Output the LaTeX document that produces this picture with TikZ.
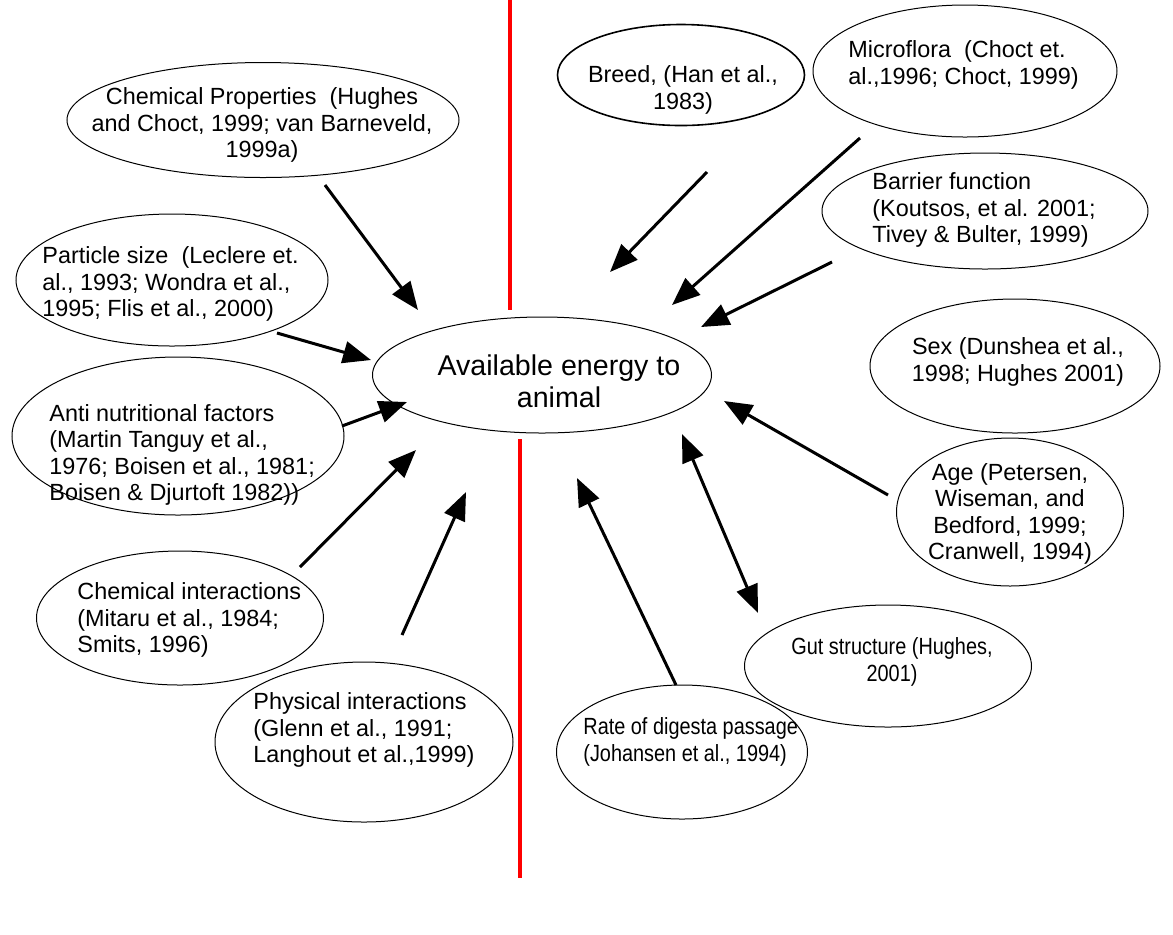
\documentclass[tikz,border=0pt]{standalone}
\usepackage{fontspec}
\setmainfont{Liberation Sans}
\newfontfamily\narrowsans[FakeStretch=0.85]{Liberation Sans}
\usetikzlibrary{arrows.meta,shapes.geometric}
\begin{document}
\begin{tikzpicture}[x=0.5pt,y=-0.5pt,
  ell/.style={draw, ellipse, inner sep=0pt, line width=0.5pt},
  lbl/.style={inner sep=0pt, font=\fontsize{11.7pt}{13.3pt}\selectfont},
  narrowlbl/.style={inner sep=0pt, font=\narrowsans\fontsize{11.7pt}{13.3pt}\selectfont},
  biglbl/.style={inner sep=0pt, align=center, font=\fontsize{14.3pt}{16pt}\selectfont},
  arr/.style={line width=1.5pt, -{Triangle[length=14pt,width=11pt]}},
  dbl/.style={line width=1.5pt, {Triangle[length=14pt,width=11pt]}-{Triangle[length=14pt,width=11pt]}},
  redline/.style={draw=red, line width=2pt}]
\fill[white] (0,0) rectangle (1173,934);
\useasboundingbox (0,0) rectangle (1173,934);

% red dividing line
\coordinate (r1t) at (510,0);
\coordinate (r1b) at (510,310);
\coordinate (r2t) at (520,439);
\coordinate (r2b) at (520,878);
\draw[redline] (r1t) -- (r1b);
\draw[redline] (r2t) -- (r2b);

% ellipses
\node[ell, minimum width=169.5pt, minimum height=58pt] (ce) at (542,375) {};
\node[ell, minimum width=196pt, minimum height=57.5pt] (cp) at (263,120) {};
\node[ell, minimum width=156pt, minimum height=66pt] (ps) at (172,280) {};
\node[ell, minimum width=166pt, minimum height=79pt] (an) at (178,436) {};
\node[ell, minimum width=143.5pt, minimum height=67pt] (ci) at (180,618) {};
\node[ell, minimum width=149pt, minimum height=80pt] (pi) at (364,742) {};
\node[ell, line width=0.8pt, minimum width=123.5pt, minimum height=50.5pt] (br) at (681,75) {};
\node[ell, minimum width=152pt, minimum height=66pt] (mf) at (965,71) {};
\node[ell, minimum width=163pt, minimum height=58pt] (bf) at (985,211) {};
\node[ell, minimum width=145pt, minimum height=67pt] (sx) at (1015,366) {};
\node[ell, minimum width=113.5pt, minimum height=74pt] (ag) at (1010,512) {};
\node[ell, minimum width=143.5pt, minimum height=61pt] (gs) at (888,666) {};
\node[ell, minimum width=125.5pt, minimum height=67pt] (rd) at (682,752) {};

% texts
\node[biglbl] (cet) at (559,381) {Available energy to\\animal};
\node[lbl, align=center] (cpt) at (262,125) {Chemical Properties~ (Hughes\\and Choct, 1999; van Barneveld,\\1999a)};
\node[lbl, align=left, anchor=west] (pst) at (42,284) {Particle size~ (Leclere et.\\al., 1993; Wondra et al.,\\1995; Flis et al., 2000)};
\node[lbl, align=left, anchor=west] (ant) at (49,455) {Anti nutritional factors\\(Martin Tanguy et al.,\\1976; Boisen et al., 1981;\\Boisen \& Djurtoft 1982))};
\node[lbl, align=left, anchor=west] (cit) at (77,620) {Chemical interactions\\(Mitaru et al., 1984;\\Smits, 1996)};
\node[lbl, align=left, anchor=west] (pit) at (253,730) {Physical interactions\\(Glenn et al., 1991;\\Langhout et al.,1999)};
\node[lbl, align=center] (brt) at (683,90) {Breed, (Han et al.,\\1983)};
\node[lbl, align=left, anchor=west] (mft) at (848,65) {Microflora~ (Choct et.\\al.,1996; Choct, 1999)};
\node[lbl, align=left, anchor=west] (bft) at (872,210) {Barrier function\\(Koutsos, et al. 2001;\\Tivey \& Bulter, 1999)};
\node[lbl, align=center] (sxt) at (1018,362) {Sex (Dunshea et al.,\\1998; Hughes 2001)};
\node[lbl, align=center] (agt) at (1010,514) {Age (Petersen,\\Wiseman, and\\Bedford, 1999;\\Cranwell, 1994)};
\node[narrowlbl, align=center] (gst) at (892,662) {Gut structure (Hughes,\\2001)};
\node[narrowlbl, align=left, anchor=west] (rdt) at (583,742) {Rate of digesta passage\\(Johansen et al., 1994)};

% arrow end points
\coordinate (a1s) at (325,185);  \coordinate (a1e) at (418,310);
\coordinate (a2s) at (277,333);  \coordinate (a2e) at (371,360);
\coordinate (a3s) at (342,426);  \coordinate (a3e) at (407,402);
\coordinate (a4s) at (300,567);  \coordinate (a4e) at (416,450);
\coordinate (a5s) at (402,635);  \coordinate (a5e) at (466,492);
\coordinate (a6s) at (707,172);  \coordinate (a6e) at (610,272);
\coordinate (a7s) at (860,138);  \coordinate (a7e) at (672,305);
\coordinate (a8s) at (832,262);  \coordinate (a8e) at (701,327);
\coordinate (a9s) at (888,495);  \coordinate (a9e) at (724,401);
\coordinate (a10s) at (682,434); \coordinate (a10e) at (758,613);
\coordinate (a11s) at (676,685); \coordinate (a11e) at (577,478);

\draw[arr] (a1s) -- (a1e);
\draw[arr] (a2s) -- (a2e);
\draw[arr] (a3s) -- (a3e);
\draw[arr] (a4s) -- (a4e);
\draw[arr] (a5s) -- (a5e);
\draw[arr] (a6s) -- (a6e);
\draw[arr] (a7s) -- (a7e);
\draw[arr] (a8s) -- (a8e);
\draw[arr] (a9s) -- (a9e);
\draw[dbl] (a10s) -- (a10e);
\draw[arr] (a11s) -- (a11e);
\end{tikzpicture}
\end{document}
